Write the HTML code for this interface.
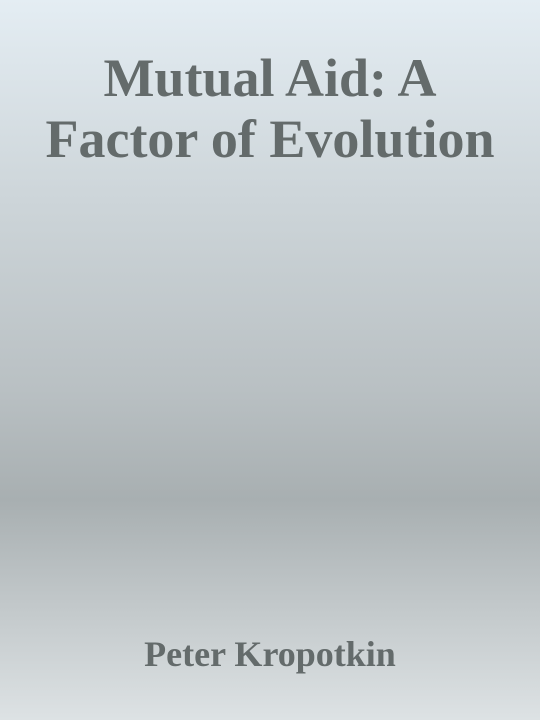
<!DOCTYPE html>
<html>
<head>
<meta charset="utf-8">
<style>
  html, body { margin: 0; padding: 0; }
  body {
    width: 540px; height: 720px; overflow: hidden;
    background: linear-gradient(to bottom,
      #e4edf3 0px,
      #cdd5d9 200px,
      #b9c0c3 390px,
      #a8afb1 500px,
      #c3c9cb 610px,
      #dde2e4 720px);
    font-family: "Liberation Serif", serif;
    position: relative;
  }
  .title {
    position: absolute; left: 0; width: 540px; top: 48px;
    text-align: center; color: #646b6b;
    font-weight: bold; font-size: 54px; line-height: 61px;
  }
  .author {
    position: absolute; left: 0; width: 540px; top: 634px;
    text-align: center; color: #646b6b;
    font-weight: bold; font-size: 36px; line-height: 40px;
  }
</style>
</head>
<body>
  <div class="title">Mutual Aid: A<br>Factor of Evolution</div>
  <div class="author">Peter Kropotkin</div>
</body>
</html>
